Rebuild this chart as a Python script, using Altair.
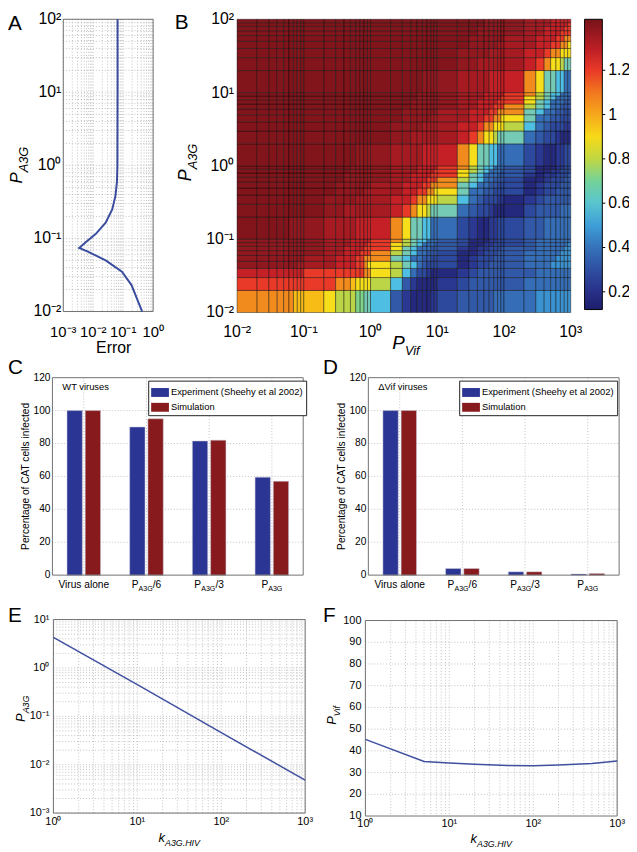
import altair as alt
import pandas as pd

FONT = "Liberation Sans"
W, H = 629, 844

# ====================== DATA ======================
# Panel A : model error along P_A3G
a_p_a3g = [100, 10, 1.0, 0.6, 0.38, 0.25, 0.165, 0.115, 0.089, 0.074, 0.065, 0.05, 0.035, 0.023, 0.01]
a_error = [0.065, 0.065, 0.064, 0.062, 0.055, 0.043, 0.026, 0.012, 0.0056, 0.0034, 0.0072, 0.026, 0.091, 0.19, 0.43]

# Panel B : heat map over (P_Vif, P_A3G)
b_pvif = [0.01, 0.02, 0.03, 0.04, 0.05, 0.06, 0.07, 0.08, 0.09,
          0.1, 0.2, 0.3, 0.4, 0.5, 0.6, 0.7, 0.8, 0.9,
          1, 2, 3, 4, 5, 6, 7, 8, 9,
          10, 20, 30, 40, 50, 60, 70, 80, 90,
          100, 200, 300, 400, 500, 600, 700, 800, 900, 1000]
b_pa3g = [0.01, 0.02, 0.03, 0.04, 0.05, 0.06, 0.07, 0.08, 0.09,
          0.1, 0.2, 0.3, 0.4, 0.5, 0.6, 0.7, 0.8, 0.9,
          1, 2, 3, 4, 5, 6, 7, 8, 9,
          10, 20, 30, 40, 50, 60, 70, 80, 90, 100]
b_level = {"a": 0.17, "b": 0.23, "c": 0.28, "d": 0.33, "e": 0.39, "f": 0.48, "g": 0.56,
           "h": 0.66, "i": 0.72, "j": 0.79, "k": 0.89, "l": 0.96, "m": 1.06, "n": 1.20,
           "o": 1.28, "p": 1.34, "q": 1.38, "r": 1.41}
# one string per P_A3G row (bottom to top), one letter per P_Vif column, decades split by spaces
b_rows = [
    "mmmmmmlll lkjjjiihh gdbaaaabb cdddddeee eefffffff",
    "nnnnnnnnn nnmmlkkkk jgdbaaaaa bcddddddd deeeeeeee",
    "ooooooooo nnnnnnnmm kjgeccbaa abcdddddd ddeeeeeee",
    "qqqqqqqpp ppooonnmk kjhgedccc cabccdddd deeefffff",
    "qqqqqqqqq ppooonnmm mhgeeddcc cabcccddd deeeeffff",
    "qqqqqqqqq qppooonnn mjhgeeddd caabcccdd deeeeefff",
    "qqqqqqqqq qppoooonn nkhgeeedd dbabbcccd ddeeeeeff",
    "qqqqqqqqq qpppoooon nkjhgeeed dcaabbccc cdeeeeeef",
    "qqqqqqqqq qpppooooo nmjhggeee dcaaabbcc cdeeeeeee",
    "rrrrrqqqq qppppoooo omkhhggee ecbaabbcc cddeeeeee",
    "rrrrrrrrr rqqpppppp ponmkkjhh hedccbaaa acddddeee",
    "rrrrrrrrr rqqqqpppp poonmmkkk jgedcccbb abcdddddd",
    "rrrrrrrrr rrqqqqqpp ppoonnmmk kheeddccc cabccdddd",
    "rrrrrrrrr rrqqqqqqq ppooonnmm mhgeeddcc cabcccddd",
    "rrrrrrrrr rrrqqqqqq qppooonnn mjhgeeddd caabcccdd",
    "rrrrrrrrr rrrqqqqqq qppoooonn nkhgeeedd dbabbcccd",
    "rrrrrrrrr rrrrqqqqq qpppoooon nkjhgeeed dcaabbccc",
    "rrrrrrrrr rrrrqqqqq qpppooooo nmjhggeee dcaaabbcc",
    "rrrrrrrrr rrrrrqqqq qppppoooo omkhhggee ecbaabbcc",
    "rrrrrrrrr rrrrrrrrr rqqpppppp ponmkkjhh hedccbaaa",
    "rrrrrrrrr rrrrrrrrr rqqqqpppp poonmmkkk jgedcccbb",
    "rrrrrrrrr rrrrrrrrr rrqqqqqpp ppoonnmmk kheeddccc",
    "rrrrrrrrr rrrrrrrrr rrqqqqqqq ppooonnmm mhgeeddcc",
    "rrrrrrrrr rrrrrrrrr rrrqqqqqq qppooonnn mjhgeeddd",
    "rrrrrrrrr rrrrrrrrr rrrqqqqqq qppoooonn nkhgeeedd",
    "rrrrrrrrr rrrrrrrrr rrrrqqqqq qpppoooon nkjhgeeed",
    "rrrrrrrrr rrrrrrrrr rrrrqqqqq qpppooooo nmjhggeee",
    "rrrrrrrrr rrrrrrrrr rrrrrqqqq qppppoooo omkhhggee",
    "rrrrrrrrr rrrrrrrrr rrrrrrrrr rqqpppppp ponmkkjhh",
    "rrrrrrrrr rrrrrrrrr rrrrrrrrr rqqqqpppp poonmmkkk",
    "rrrrrrrrr rrrrrrrrr rrrrrrrrr rrqqqqqpp ppoonnmmk",
    "rrrrrrrrr rrrrrrrrr rrrrrrrrr rrqqqqqqq ppooonnmm",
    "rrrrrrrrr rrrrrrrrr rrrrrrrrr rrrqqqqqq qppooonnn",
    "rrrrrrrrr rrrrrrrrr rrrrrrrrr rrrqqqqqq qppoooonn",
    "rrrrrrrrr rrrrrrrrr rrrrrrrrr rrrrqqqqq qpppoooon",
    "rrrrrrrrr rrrrrrrrr rrrrrrrrr rrrrqqqqq qpppooooo",
]
b_cbar_ticks = [0.2, 0.4, 0.6, 0.8, 1.0, 1.2]
b_cmap_val = [0.12, 0.22, 0.35, 0.47, 0.55, 0.65, 0.78, 0.88, 1.03, 1.22, 1.43]
b_cmap_col = ["#1e1e6b", "#2a3590", "#355fab", "#3a8ccc", "#4fbde8", "#78c8b8",
              "#b5d34a", "#f5e41d", "#f39a22", "#e6262b", "#771419"]
b_vmin, b_vmax = 0.12, 1.43

# Panels C and D
cd_conditions = ["Virus alone", "PA3G/6", "PA3G/3", "PA3G"]
cd_series = ["Experiment (Sheehy et al 2002)", "Simulation"]
cd_colors = ["#2b3593", "#861a1d"]
c_experiment = [100, 90, 81.5, 59.5]
c_simulation = [100, 95, 82, 57]
d_experiment = [100, 4, 2, 0.7]
d_simulation = [100, 4, 2, 1]

# Panel E
e_k = [1, 10, 100, 1000]
e_pa3g = [4.3, 0.45, 0.046, 0.0048]

# Panel F
f_k = [1, 5, 10, 20, 50, 100, 200, 500, 1000]
f_pvif = [45.3, 35.1, 34.4, 33.8, 33.3, 33.2, 33.5, 34.2, 35.3]

SUP = {-3: "10\u207b\u00b3", -2: "10\u207b\u00b2", -1: "10\u207b\u00b9", 0: "10\u2070",
       1: "10\u00b9", 2: "10\u00b2", 3: "10\u00b3"}

# ====================== LAYOUT (px inside the svg) ======================
PA = dict(x0=56, x1=147, y0=6, y1=302)
PB = dict(x0=232, x1=570, y0=6, y1=303)
PC = dict(x0=45, x1=299, y0=369, y1=569)
PD = dict(x0=365, x1=619, y0=369, y1=569)
PE = dict(x0=46, x1=301, y0=614, y1=810)
PF = dict(x0=362, x1=617, y0=615, y1=813)

GRID = dict(color="#a8a8a8", strokeDash=[1, 2], strokeWidth=0.7)
FRAME = "#707070"
one = pd.DataFrame({"k": [0]})


def logscale(lo, hi, r0, r1):
    return alt.Scale(type="log", domain=[lo, hi], range=[r0, r1], nice=False)


def linscale(lo, hi, r0, r1):
    return alt.Scale(type="linear", domain=[lo, hi], range=[r0, r1], nice=False, zero=False)


def minor(e0, e1):
    out = []
    for e in range(e0, e1):
        for k in range(1, 10):
            out.append(round(k * 10.0 ** e, 10))
    out.append(10.0 ** e1)
    return out


def txt(text, x, y, size, **kw):
    kw.setdefault("color", "black")
    return alt.Chart(one).mark_text(text=text, font=FONT, fontSize=size, **kw).encode(
        x=alt.value(x), y=alt.value(y))


def frame(P, color=FRAME):
    return alt.Chart(one).mark_rect(fillOpacity=0, stroke=color, strokeWidth=1).encode(
        x=alt.value(P["x0"]), x2=alt.value(P["x1"]), y=alt.value(P["y0"]), y2=alt.value(P["y1"]))


def vgrid(vals, xs, P, style=GRID):
    return alt.Chart(pd.DataFrame({"v": vals})).mark_rule(**style).encode(
        x=alt.X("v:Q", scale=xs, axis=None), y=alt.value(P["y0"]), y2=alt.value(P["y1"]))


def hgrid(vals, ys, P, style=GRID):
    return alt.Chart(pd.DataFrame({"v": vals})).mark_rule(**style).encode(
        y=alt.Y("v:Q", scale=ys, axis=None), x=alt.value(P["x0"]), x2=alt.value(P["x1"]))


def xlabels(vals, labels, xs, y, size):
    return alt.Chart(pd.DataFrame({"v": vals, "t": labels})).mark_text(
        font=FONT, fontSize=size, baseline="alphabetic", color="black").encode(
        x=alt.X("v:Q", scale=xs, axis=None), y=alt.value(y), text="t:N")


def ylabels(vals, labels, ys, x, size):
    return alt.Chart(pd.DataFrame({"v": vals, "t": labels})).mark_text(
        font=FONT, fontSize=size, align="right", baseline="middle", color="black").encode(
        y=alt.Y("v:Q", scale=ys, axis=None), x=alt.value(x), text="t:N")


def subtitle(main, sub, x, y, size, subsize, drop, rotate=False):
    extra = dict(angle=270) if rotate else {}
    return [txt(main, x, y, size, align="right", baseline="alphabetic", fontStyle="italic", **extra),
            txt(sub, x, y, subsize, align="left", baseline="alphabetic", fontStyle="italic", dy=drop, **extra)]


layers = []

# ---------------- Panel A ----------------
ax = logscale(0.001, 1, PA["x0"], PA["x1"])
ay = logscale(0.01, 100, PA["y1"], PA["y0"])
dfA = pd.DataFrame({"i": list(range(len(a_p_a3g))), "p": a_p_a3g, "err": a_error})
layers += [
    vgrid(minor(-3, 0), ax, PA),
    hgrid(minor(-2, 2), ay, PA),
    frame(PA),
    alt.Chart(dfA).mark_line(color="#3a4c9e", strokeWidth=2).encode(
        x=alt.X("err:Q", scale=ax, axis=None), y=alt.Y("p:Q", scale=ay, axis=None),
        order=alt.Order("i:Q")),
    xlabels([0.001, 0.01, 0.1, 1], [SUP[-3], SUP[-2], SUP[-1], SUP[0]], ax, 328, 15),
    ylabels([0.01, 0.1, 1, 10, 100], [SUP[-2], SUP[-1], SUP[0], SUP[1], SUP[2]], ay, 54, 16),
    txt("Error", 107, 344, 16, baseline="alphabetic"),
]
layers += subtitle("P", "A3G", 14, 161, 17, 13, 6, rotate=True)

# ---------------- Panel B ----------------
bx = logscale(0.01, 1000, PB["x0"], PB["x1"])
by = logscale(0.01, 100, PB["y1"], PB["y0"])
cells = []
for j, row in enumerate(b_rows):
    codes = row.replace(" ", "")
    assert len(codes) == len(b_pvif) - 1, (j, len(codes))
    for i, ch in enumerate(codes):
        cells.append({"x": b_pvif[i], "x2": b_pvif[i + 1], "y": b_pa3g[j], "y2": b_pa3g[j + 1],
                      "v": b_level[ch]})
dfB = pd.DataFrame(cells)
layers += [
    alt.Chart(dfB).mark_rect(stroke="black", strokeWidth=0.7, strokeOpacity=0.6).encode(
        x=alt.X("x:Q", scale=bx, axis=None), x2="x2:Q",
        y=alt.Y("y:Q", scale=by, axis=None), y2="y2:Q",
        color=alt.Color("v:Q", scale=alt.Scale(domain=b_cmap_val, range=b_cmap_col),
                        legend=alt.Legend(orient="none", legendX=584, legendY=6, title=None,
                                          direction="vertical", gradientLength=294,
                                          gradientThickness=18, gradientStrokeColor="black",
                                          gradientStrokeWidth=1, values=b_cbar_ticks,
                                          labelExpr="datum.value == 1 ? '1' : format(datum.value, '.1f')",
                                          labelFont=FONT, labelFontSize=16, labelColor="black",
                                          labelOffset=6, padding=0))),
    xlabels([0.01, 0.1, 1, 10, 100, 1000], [SUP[-2], SUP[-1], SUP[0], SUP[1], SUP[2], SUP[3]], bx, 328, 16),
    ylabels([0.01, 0.1, 1, 10, 100], [SUP[-2], SUP[-1], SUP[0], SUP[1], SUP[2]], by, 229, 16),
]
cby = linscale(b_vmin, b_vmax, 300, 6)
layers.append(alt.Chart(pd.DataFrame({"v": b_cbar_ticks})).mark_rule(color="black", strokeWidth=1).encode(
    y=alt.Y("v:Q", scale=cby, axis=None), x=alt.value(602), x2=alt.value(605)))
layers += subtitle("P", "A3G", 185, 158, 18, 13, 6, rotate=True)
layers += subtitle("P", "Vif", 402, 340, 19, 13, 6)


# ---------------- Panels C and D ----------------
def bar_panel(P, exp_vals, sim_vals, note, legend_x):
    xs = alt.Scale(domain=cd_conditions, range=[P["x0"], P["x1"]], paddingInner=0.465, paddingOuter=0.2325)
    ys = linscale(0, 120, P["y1"], P["y0"])
    df = pd.DataFrame({"cond": cd_conditions * 2,
                       "series": [cd_series[0]] * 4 + [cd_series[1]] * 4,
                       "v": exp_vals + sim_vals})
    out = [
        hgrid([20, 40, 60, 80, 100], ys, P),
        alt.Chart(pd.DataFrame({"c": cd_conditions})).mark_rule(**GRID).encode(
            x=alt.X("c:N", scale=xs, axis=None), y=alt.value(P["y0"]), y2=alt.value(P["y1"])),
        alt.Chart(df).mark_bar(stroke="#c8c8d8", strokeWidth=0.5).encode(
            x=alt.X("cond:N", scale=xs, axis=None),
            xOffset=alt.XOffset("series:N", scale=alt.Scale(domain=cd_series, paddingInner=0.16)),
            y=alt.Y("v:Q", scale=ys, axis=None),
            color=alt.Color("series:N", scale=alt.Scale(domain=cd_series, range=cd_colors),
                            legend=alt.Legend(orient="none", legendX=legend_x, legendY=P["y0"] + 3,
                                              title=None, strokeColor="#222222", fillColor="white",
                                              padding=3, symbolType="M-1,-0.5H1V0.5H-1Z",
                                              symbolSize=324, symbolStrokeWidth=0, symbolOpacity=1,
                                              labelFont=FONT, labelFontSize=9.5, labelColor="black",
                                              labelOffset=2, rowPadding=1))),
        frame(P),
        ylabels([0, 20, 40, 60, 80, 100, 120], ["0", "20", "40", "60", "80", "100", "120"], ys,
                P["x0"] - 2, 10.3),
        txt(note, P["x0"] + 10, P["y0"] + 12, 9.5, align="left", baseline="alphabetic"),
        txt("Percentage of CAT cells infected", P["x0"] - 24, (P["y0"] + P["y1"]) / 2, 10.3,
            angle=270, baseline="alphabetic"),
    ]
    ybase = P["y1"] + 13
    enc = lambda: dict(x=alt.X("c:N", scale=xs, axis=None), y=alt.value(ybase))
    plain = pd.DataFrame({"c": ["Virus alone"]})
    frac = pd.DataFrame({"c": ["PA3G/6", "PA3G/3"], "s": ["/6", "/3"]})
    full = pd.DataFrame({"c": ["PA3G"]})
    base = dict(font=FONT, fontSize=10.3, baseline="alphabetic", color="black")
    small = dict(font=FONT, fontSize=7.2, baseline="alphabetic", color="black")
    out += [
        alt.Chart(plain).mark_text(text="Virus alone", **base).encode(**enc()),
        alt.Chart(frac).mark_text(text="P", align="left", dx=-15, **base).encode(**enc()),
        alt.Chart(frac).mark_text(text="A3G", align="left", dx=-8.1, dy=3, **small).encode(**enc()),
        alt.Chart(frac).mark_text(align="left", dx=6.3, **base).encode(text="s:N", **enc()),
        alt.Chart(full).mark_text(text="P", align="left", dx=-10.6, **base).encode(**enc()),
        alt.Chart(full).mark_text(text="A3G", align="left", dx=-3.7, dy=3, **small).encode(**enc()),
    ]
    return out


layers += bar_panel(PC, c_experiment, c_simulation, "WT viruses", 142)
layers += bar_panel(PD, d_experiment, d_simulation, "\u0394Vif viruses", 457)

# ---------------- Panel E ----------------
ex = logscale(1, 1000, PE["x0"], PE["x1"])
ey = logscale(0.001, 10, PE["y1"], PE["y0"])
layers += [
    vgrid(minor(0, 3), ex, PE),
    hgrid(minor(-3, 1), ey, PE),
    frame(PE),
    alt.Chart(pd.DataFrame({"k": e_k, "p": e_pa3g})).mark_line(color="#3f50a0", strokeWidth=1.5).encode(
        x=alt.X("k:Q", scale=ex, axis=None), y=alt.Y("p:Q", scale=ey, axis=None)),
    xlabels([1, 10, 100, 1000], [SUP[0], SUP[1], SUP[2], SUP[3]], ex, 822, 11),
    ylabels([0.001, 0.01, 0.1, 1, 10], [SUP[-3], SUP[-2], SUP[-1], SUP[0], SUP[1]], ey, 42, 11),
]
layers += subtitle("P", "A3G", 17, 709, 13, 9, 4, rotate=True)
layers += subtitle("k", "A3G.HIV", 159, 839, 13, 9, 4)

# ---------------- Panel F ----------------
fx = logscale(1, 1000, PF["x0"], PF["x1"])
fy = linscale(10, 100, PF["y1"], PF["y0"])
layers += [
    vgrid(minor(0, 3), fx, PF),
    hgrid([20, 30, 40, 50, 60, 70, 80, 90], fy, PF),
    frame(PF),
    alt.Chart(pd.DataFrame({"k": f_k, "p": f_pvif})).mark_line(color="#3f50a0", strokeWidth=1.5).encode(
        x=alt.X("k:Q", scale=fx, axis=None), y=alt.Y("p:Q", scale=fy, axis=None)),
    xlabels([1, 10, 100, 1000], [SUP[0], SUP[1], SUP[2], SUP[3]], fx, 824, 11),
    ylabels(list(range(10, 101, 10)), [str(v) for v in range(10, 101, 10)], fy, 358, 11),
]
layers += subtitle("P", "Vif", 332, 712, 13, 9, 4, rotate=True)
layers += subtitle("k", "A3G.HIV", 475, 840, 13, 9, 4)

# ---------------- Panel letters ----------------
for letter, x, y in [("A", 0, 17), ("B", 169, 16), ("C", 0, 365), ("D", 319, 365), ("E", 0, 616), ("F", 319, 616)]:
    layers.append(txt(letter, x, y, 21, align="left", baseline="alphabetic"))

chart = alt.layer(*layers).resolve_scale(
    x="independent", y="independent", color="independent", xOffset="independent"
).properties(
    width=W, height=H, padding=0, autosize=alt.AutoSizeParams(type="none")
).configure_view(strokeWidth=0)

chart.save("out.html", embed_options={"renderer": "svg", "actions": False})
